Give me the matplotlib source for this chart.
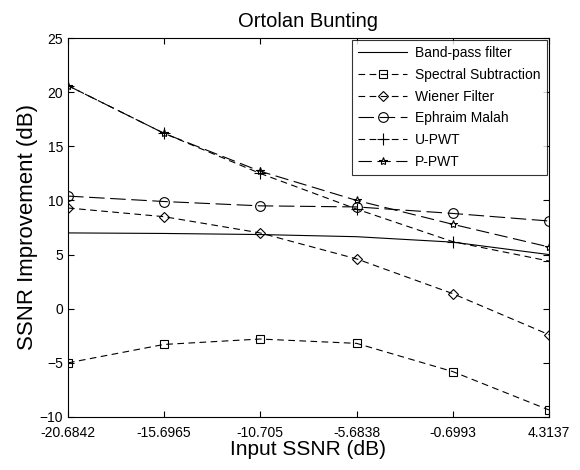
import numpy as np
import matplotlib
matplotlib.use('Agg')
from matplotlib import pyplot as plt

plt.rcParams['font.family'] = ['Liberation Sans', 'DejaVu Sans']

# Input SSNR values (dB)
input_ssnr = [-20.6842, -15.6965, -10.705, -5.6838, -0.6993, 4.3137]
tick_labels = ['-20.6842', '-15.6965', '-10.705', '-5.6838', '-0.6993', '4.3137']

# SSNR improvement per method (dB)
band_pass = [7.0, 6.95, 6.85, 6.65, 6.15, 5.0]
spectral_sub = [-5.0, -3.3, -2.8, -3.2, -5.8, -9.35]
wiener = [9.3, 8.5, 7.0, 4.6, 1.4, -2.4]
ephraim = [10.4, 9.9, 9.5, 9.4, 8.8, 8.1]
u_pwt = [20.6, 16.2, 12.5, 9.2, 6.2, 4.4]
p_pwt = [20.6, 16.2, 12.7, 10.0, 7.8, 5.7]

fig = plt.figure(figsize=(5.8, 4.7), dpi=100)
ax = fig.add_axes([68/580, 1 - 417/470, (549-68)/580, (417-38)/470])

lw = 0.8
ms = 6
ax.plot(input_ssnr, band_pass, '-', color='k', lw=lw, label='Band-pass filter')
ax.plot(input_ssnr, spectral_sub, linestyle=(0, (6, 4)), color='k', lw=lw,
        marker='s', ms=ms, mfc='none', mec='k', mew=0.8, label='Spectral Subtraction')
ax.plot(input_ssnr, wiener, linestyle=(0, (6, 4)), color='k', lw=lw,
        marker='D', ms=ms-0.5, mfc='none', mec='k', mew=0.8, label='Wiener Filter')
ax.plot(input_ssnr, ephraim, linestyle=(0, (14, 5)), color='k', lw=lw,
        marker='o', ms=ms+1, mfc='none', mec='k', mew=0.8, label='Ephraim Malah')
ax.plot(input_ssnr, u_pwt, linestyle=(0, (6, 4)), color='k', lw=lw,
        marker='+', ms=ms+2, mec='k', mew=0.8, label='U-PWT')
ax.plot(input_ssnr, p_pwt, linestyle=(0, (12, 5)), color='k', lw=lw,
        marker='*', ms=ms, mfc='none', mec='k', mew=0.8, label='P-PWT')

ax.set_xlim(input_ssnr[0], input_ssnr[-1])
ax.set_ylim(-10, 25)
ax.set_xticks(input_ssnr)
ax.set_xticklabels(tick_labels)
ax.set_yticks(np.arange(-10, 26, 5))
ax.tick_params(direction='in', length=4, labelsize=10, top=True, right=True, width=0.8)
ax.tick_params(axis='x', pad=6.5)
for s in ax.spines.values():
    s.set_linewidth(0.8)

ax.set_title('Ortolan Bunting', fontsize=14.5, pad=8)
ax.set_xlabel('Input SSNR (dB)', fontsize=15, labelpad=0)
ax.set_ylabel('SSNR Improvement (dB)', fontsize=16, labelpad=1)

leg = ax.legend(loc='upper right', fontsize=10, frameon=True, fancybox=False,
                edgecolor='k', borderaxespad=0.15, handlelength=3.5,
                labelspacing=0.55, borderpad=0.45, handletextpad=0.6)
leg.get_frame().set_linewidth(0.8)

fig.savefig('out.png', dpi=100)
